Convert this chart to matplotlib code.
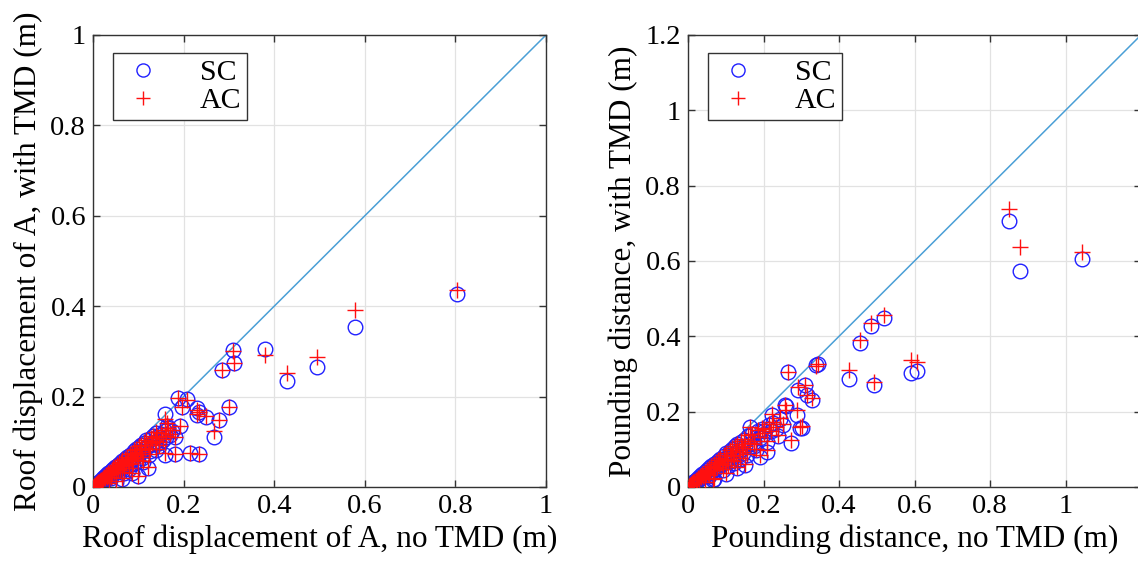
import numpy as np
import matplotlib.pyplot as plt
from matplotlib.ticker import FuncFormatter

plt.rcParams['font.family'] = ['Liberation Serif', 'DejaVu Serif']

# left panel: roof displacement of A (m)
roof_x = [0.804, 0.578, 0.494, 0.429, 0.380, 0.310, 0.311, 0.285, 0.188, 0.208,
          0.196, 0.229, 0.235, 0.230, 0.249, 0.301, 0.279, 0.267, 0.159, 0.164,
          0.192, 0.181, 0.214, 0.234, 0.181, 0.159, 0.100, 0.122,
          0.001, 0.003, 0.005, 0.007, 0.009, 0.011, 0.013, 0.015, 0.017, 0.019,
          0.021, 0.023, 0.025, 0.027, 0.029, 0.031, 0.033, 0.035, 0.037, 0.039,
          0.041, 0.043, 0.045, 0.047, 0.049, 0.051, 0.053, 0.055, 0.057, 0.059,
          0.061, 0.063, 0.065, 0.067, 0.069, 0.071, 0.073, 0.075, 0.077, 0.079,
          0.081, 0.083, 0.085, 0.087, 0.089, 0.091, 0.093, 0.095, 0.097, 0.099,
          0.101, 0.103, 0.105, 0.107, 0.109, 0.112, 0.115, 0.118, 0.121, 0.124,
          0.127, 0.130, 0.133, 0.136, 0.139, 0.142, 0.146, 0.150, 0.154, 0.158,
          0.162, 0.166, 0.170, 0.175, 0.035, 0.050, 0.065, 0.085,
          0.020, 0.040, 0.060, 0.080, 0.110, 0.125, 0.140, 0.145]
roof_sc = [0.428, 0.354, 0.266, 0.235, 0.305, 0.303, 0.274, 0.259, 0.198, 0.195,
           0.176, 0.174, 0.165, 0.159, 0.154, 0.176, 0.148, 0.110, 0.161, 0.135,
           0.135, 0.111, 0.076, 0.074, 0.074, 0.071, 0.024, 0.041,
           0.001, 0.003, 0.004, 0.006, 0.008, 0.009, 0.012, 0.011, 0.015, 0.014,
           0.019, 0.016, 0.022, 0.019, 0.026, 0.021, 0.030, 0.024, 0.033, 0.027,
           0.037, 0.030, 0.040, 0.031, 0.044, 0.035, 0.047, 0.038, 0.051, 0.042,
           0.054, 0.044, 0.058, 0.047, 0.031, 0.062, 0.052, 0.066, 0.055, 0.040,
           0.071, 0.060, 0.074, 0.063, 0.050, 0.080, 0.068, 0.084, 0.072, 0.058,
           0.089, 0.076, 0.093, 0.080, 0.065, 0.098, 0.085, 0.103, 0.090, 0.071,
           0.107, 0.095, 0.112, 0.100, 0.082, 0.110, 0.098, 0.118, 0.105, 0.125,
           0.110, 0.130, 0.115, 0.125, 0.008, 0.012, 0.018, 0.030,
           0.010, 0.020, 0.035, 0.048, 0.055, 0.080, 0.120, 0.090]
roof_ac = [0.436, 0.392, 0.287, 0.253, 0.292, 0.300, 0.274, 0.259, 0.196, 0.193,
           0.176, 0.170, 0.165, 0.162, 0.156, 0.176, 0.148, 0.125, 0.150, 0.141,
           0.135, 0.111, 0.076, 0.074, 0.074, 0.075, 0.024, 0.045,
           0.001, 0.003, 0.005, 0.006, 0.009, 0.010, 0.012, 0.013, 0.016, 0.015,
           0.020, 0.018, 0.023, 0.020, 0.027, 0.023, 0.030, 0.026, 0.034, 0.028,
           0.038, 0.032, 0.041, 0.033, 0.045, 0.037, 0.048, 0.040, 0.052, 0.043,
           0.056, 0.046, 0.059, 0.048, 0.034, 0.063, 0.054, 0.067, 0.057, 0.042,
           0.072, 0.062, 0.076, 0.064, 0.052, 0.082, 0.070, 0.085, 0.073, 0.060,
           0.090, 0.078, 0.094, 0.082, 0.066, 0.100, 0.087, 0.104, 0.092, 0.073,
           0.109, 0.097, 0.113, 0.101, 0.084, 0.111, 0.100, 0.120, 0.106, 0.126,
           0.112, 0.131, 0.117, 0.126, 0.009, 0.014, 0.020, 0.032,
           0.012, 0.022, 0.037, 0.050, 0.058, 0.083, 0.122, 0.093]

# right panel: pounding distance (m)
pound_x = [0.851, 0.880, 1.044, 0.519, 0.485, 0.456, 0.427, 0.493, 0.592, 0.606,
           0.345, 0.339, 0.266, 0.292, 0.310, 0.314, 0.328, 0.260, 0.288, 0.303,
           0.298, 0.272, 0.222, 0.208, 0.257, 0.164, 0.191, 0.151, 0.067,
           0.002, 0.005, 0.008, 0.011, 0.014, 0.017, 0.020, 0.023, 0.026, 0.029,
           0.032, 0.035, 0.038, 0.041, 0.044, 0.047, 0.050, 0.053, 0.056, 0.059,
           0.062, 0.065, 0.068, 0.071, 0.074, 0.077, 0.080, 0.083, 0.086, 0.089,
           0.092, 0.095, 0.098, 0.101, 0.104, 0.107, 0.110, 0.113, 0.116, 0.119,
           0.122, 0.125, 0.128, 0.131, 0.134, 0.137, 0.140, 0.144, 0.148, 0.152,
           0.156, 0.160, 0.165, 0.170, 0.175, 0.180, 0.185, 0.190, 0.196, 0.202,
           0.208, 0.214, 0.220, 0.226, 0.232, 0.238, 0.245, 0.252,
           0.046, 0.070, 0.100, 0.130,
           0.030, 0.055, 0.085, 0.115, 0.145, 0.175, 0.200]
pound_sc = [0.705, 0.574, 0.604, 0.448, 0.427, 0.381, 0.287, 0.271, 0.303, 0.309,
            0.326, 0.324, 0.304, 0.258, 0.271, 0.244, 0.231, 0.215, 0.191, 0.156,
            0.156, 0.118, 0.191, 0.094, 0.218, 0.160, 0.080, 0.058, 0.019,
            0.002, 0.004, 0.007, 0.009, 0.012, 0.013, 0.018, 0.017, 0.023, 0.020,
            0.029, 0.024, 0.034, 0.028, 0.039, 0.031, 0.045, 0.036, 0.050, 0.040,
            0.055, 0.043, 0.061, 0.048, 0.064, 0.052, 0.070, 0.057, 0.075, 0.061,
            0.046, 0.083, 0.066, 0.089, 0.072, 0.055, 0.096, 0.078, 0.101, 0.084,
            0.065, 0.108, 0.090, 0.113, 0.095, 0.075, 0.120, 0.100, 0.126, 0.108,
            0.085, 0.135, 0.115, 0.140, 0.120, 0.098, 0.150, 0.130, 0.155, 0.140,
            0.120, 0.165, 0.148, 0.170, 0.155, 0.135, 0.180, 0.165,
            0.012, 0.022, 0.035, 0.050,
            0.020, 0.030, 0.060, 0.070, 0.090, 0.110, 0.150]
pound_ac = [0.737, 0.638, 0.625, 0.457, 0.436, 0.390, 0.311, 0.280, 0.337, 0.333,
            0.326, 0.322, 0.304, 0.265, 0.271, 0.244, 0.235, 0.205, 0.204, 0.162,
            0.158, 0.125, 0.195, 0.098, 0.218, 0.158, 0.085, 0.062, 0.022,
            0.002, 0.005, 0.007, 0.010, 0.013, 0.014, 0.018, 0.019, 0.024, 0.022,
            0.030, 0.026, 0.035, 0.030, 0.040, 0.034, 0.046, 0.038, 0.051, 0.043,
            0.056, 0.046, 0.062, 0.050, 0.066, 0.054, 0.071, 0.060, 0.077, 0.063,
            0.049, 0.085, 0.069, 0.090, 0.074, 0.058, 0.098, 0.081, 0.103, 0.086,
            0.068, 0.110, 0.092, 0.115, 0.098, 0.078, 0.121, 0.103, 0.128, 0.110,
            0.088, 0.137, 0.118, 0.142, 0.123, 0.100, 0.152, 0.133, 0.157, 0.143,
            0.123, 0.167, 0.150, 0.172, 0.158, 0.138, 0.182, 0.168,
            0.014, 0.025, 0.038, 0.053,
            0.022, 0.033, 0.063, 0.073, 0.093, 0.113, 0.153]


def panel(ax, x, sc, ac, lim, ticks, xlabel, ylabel):
    ax.plot([0, lim], [0, lim], color='#4a9fd6', lw=1.1, zorder=1)
    ax.plot(x, sc, 'o', ms=10.5, mfc='none', mec='#2020ff', mew=1.0,
            label='SC', zorder=2)
    ax.plot(x, ac, '+', ms=11, mec='#ff1010', mew=1.0, label='AC', zorder=3)
    ax.set_xlim(0, lim)
    ax.set_ylim(0, lim)
    ax.set_xticks(ticks)
    ax.set_yticks(ticks)
    fmt = FuncFormatter(lambda v, p: '%g' % round(v, 3))
    ax.xaxis.set_major_formatter(fmt)
    ax.yaxis.set_major_formatter(fmt)
    ax.grid(True, color='#e2e2e2', lw=0.9)
    ax.set_axisbelow(True)
    ax.tick_params(direction='in', length=5, width=1, top=True, right=True,
                   labelsize=20.5, color='#333333', pad=5)
    for s in ax.spines.values():
        s.set_color('#333333')
        s.set_linewidth(1.0)
    ax.set_xlabel(xlabel, fontsize=22.5, labelpad=4)
    ax.set_ylabel(ylabel, fontsize=22.5, labelpad=5)
    leg = ax.legend(loc='upper left', bbox_to_anchor=(0.044, 0.96),
                    borderaxespad=0, fontsize=21.5, frameon=True, fancybox=False,
                    edgecolor='#333333', framealpha=1, handlelength=1.6,
                    handletextpad=1.1, borderpad=0.2, labelspacing=0.05,
                    markerscale=0.9)
    leg.get_frame().set_linewidth(1.0)


fig = plt.figure(figsize=(11.38, 5.68), dpi=100)
ax1 = fig.add_axes([93 / 1138, 81 / 568, 453 / 1138, 452 / 568])
ax2 = fig.add_axes([688 / 1138, 81 / 568, 453 / 1138, 452 / 568])

panel(ax1, roof_x, roof_sc, roof_ac, 1.0, [0, 0.2, 0.4, 0.6, 0.8, 1.0],
      'Roof displacement of A, no TMD (m)', 'Roof displacement of A, with TMD (m)')
panel(ax2, pound_x, pound_sc, pound_ac, 1.2, [0, 0.2, 0.4, 0.6, 0.8, 1.0, 1.2],
      'Pounding distance, no TMD (m)', 'Pounding distance, with TMD (m)')
ax2.set_xticks([0, 0.2, 0.4, 0.6, 0.8, 1.0])

fig.savefig('out.png', dpi=100)
